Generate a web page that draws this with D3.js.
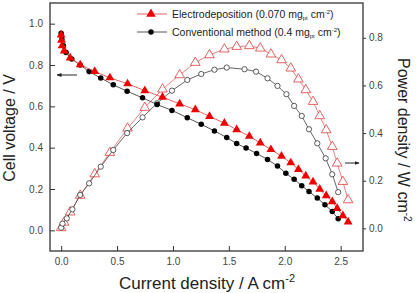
<!DOCTYPE html>
<html>
<head>
<meta charset="utf-8">
<script src="https://cdn.jsdelivr.net/npm/d3@7"></script>
<style>
body { margin: 0; background: #fff; }
text { font-family: "Liberation Sans", Arial, sans-serif; }
</style>
</head>
<body>
<svg id="chart" width="416" height="293"></svg>
<script>
// Electrodeposition (0.070 mg_pt cm-2): cell voltage
var edI = [0, 0.003, 0.008, 0.027, 0.08, 0.17, 0.30, 0.436, 0.594, 0.748, 0.906, 1.06, 1.20, 1.327, 1.46, 1.57, 1.683, 1.781, 1.876, 1.971, 2.054, 2.122, 2.188, 2.253, 2.313, 2.371, 2.425, 2.469, 2.52, 2.567];
var edV = [0.945, 0.92, 0.893, 0.868, 0.834, 0.801, 0.769, 0.738, 0.709, 0.676, 0.644, 0.612, 0.584, 0.551, 0.519, 0.487, 0.455, 0.423, 0.391, 0.359, 0.327, 0.295, 0.263, 0.234, 0.199, 0.168, 0.139, 0.106, 0.071, 0.041];
// Electrodeposition: power density
var edPI = [0, 0.027, 0.08, 0.17, 0.30, 0.436, 0.594, 0.748, 0.906, 1.06, 1.20, 1.327, 1.46, 1.57, 1.683, 1.781, 1.876, 1.971, 2.054, 2.122, 2.188, 2.253, 2.313, 2.371, 2.425, 2.469, 2.52, 2.567];
var edP = [0.002, 0.025, 0.068, 0.138, 0.228, 0.318, 0.42, 0.507, 0.584, 0.644, 0.696, 0.728, 0.752, 0.763, 0.766, 0.756, 0.731, 0.707, 0.672, 0.626, 0.581, 0.532, 0.472, 0.413, 0.343, 0.273, 0.196, 0.119];
// Conventional method (0.4 mg_pt cm-2): cell voltage
var cvI = [0, 0.006, 0.02, 0.044, 0.095, 0.17, 0.25, 0.354, 0.466, 0.59, 0.728, 0.858, 0.991, 1.128, 1.253, 1.371, 1.481, 1.57, 1.654, 1.748, 1.846, 1.935, 2.010, 2.084, 2.152, 2.217, 2.291, 2.36, 2.425, 2.478];
var cvV = [0.954, 0.925, 0.893, 0.861, 0.829, 0.80, 0.768, 0.737, 0.704, 0.673, 0.641, 0.609, 0.58, 0.545, 0.513, 0.481, 0.449, 0.42, 0.398, 0.372, 0.343, 0.311, 0.276, 0.247, 0.216, 0.188, 0.156, 0.124, 0.091, 0.056];
// Conventional method: power density
var cvPI = [0, 0.012, 0.05, 0.1, 0.17, 0.25, 0.354, 0.466, 0.59, 0.728, 0.858, 0.991, 1.128, 1.253, 1.371, 1.481, 1.64, 1.743, 1.846, 1.935, 2.015, 2.084, 2.152, 2.217, 2.291, 2.366, 2.425, 2.478];
var cvP = [0.003, 0.02, 0.042, 0.08, 0.14, 0.189, 0.259, 0.329, 0.40, 0.466, 0.525, 0.578, 0.623, 0.648, 0.666, 0.675, 0.668, 0.658, 0.63, 0.598, 0.563, 0.514, 0.472, 0.416, 0.357, 0.294, 0.227, 0.152];

var xTicks = [0, 0.5, 1.0, 1.5, 2.0, 2.5];
var yLTicks = [0, 0.2, 0.4, 0.6, 0.8, 1.0];
var yRTicks = [0, 0.2, 0.4, 0.6, 0.8];

var svg = d3.select("#chart");
var L = 50, R = 363, T = 3, B = 251;

var x = d3.scaleLinear().domain([-0.1, 2.7]).range([L, R]);
var yL = d3.scaleLinear().domain([-0.1, 1.1]).range([B, T]);
var yR = d3.scaleLinear().domain([-0.095, 0.946]).range([B, T]);

function zip(a, b) { return a.map(function(v, i) { return [v, b[i]]; }); }

// axes
var gx = svg.append("g").attr("transform", "translate(0," + B + ")")
	.call(d3.axisBottom(x).tickValues(xTicks).tickSize(-5).tickPadding(7).tickFormat(d3.format(".1f")));
var gl = svg.append("g").attr("transform", "translate(" + L + ",0)")
	.call(d3.axisLeft(yL).tickValues(yLTicks).tickSize(-5).tickPadding(7).tickFormat(d3.format(".1f")));
var gr = svg.append("g").attr("transform", "translate(" + R + ",0)")
	.call(d3.axisRight(yR).tickValues(yRTicks).tickSize(3).tickPadding(3).tickFormat(d3.format(".1f")));
[gx, gl, gr].forEach(function(g) {
	g.select(".domain").remove();
	g.selectAll("line").attr("stroke", "#333").attr("stroke-width", 1);
	g.selectAll("text").attr("font-size", 10).attr("fill", "#444")
		.attr("font-family", "'Liberation Sans', Arial, sans-serif");
});

svg.append("rect")
	.attr("x", L).attr("y", T).attr("width", R - L).attr("height", B - T)
	.attr("fill", "none").attr("stroke", "#333").attr("stroke-width", 1.3);

// series
var series = [
	{ data: zip(edPI, edP), y: yR, line: "#e57373", sym: d3.symbolTriangle, size: 40, fill: "#fff", stroke: "#e03b3b" },
	{ data: zip(cvPI, cvP), y: yR, line: "#555", sym: d3.symbolCircle, size: 22, fill: "#fff", stroke: "#333" },
	{ data: zip(cvI, cvV), y: yL, line: "#444", sym: d3.symbolCircle, size: 24, fill: "#000", stroke: "none" },
	{ data: zip(edI, edV), y: yL, line: "#e05050", sym: d3.symbolTriangle, size: 34, fill: "#ee0000", stroke: "none" }
];

series.forEach(function(s) {
	var line = d3.line()
		.x(function(d) { return x(d[0]); })
		.y(function(d) { return s.y(d[1]); });
	svg.append("path").datum(s.data)
		.attr("d", line).attr("fill", "none")
		.attr("stroke", s.line).attr("stroke-width", 0.9);
	svg.append("g").selectAll("path")
		.data(s.data)
		.enter()
		.append("path")
		.attr("d", d3.symbol().type(s.sym).size(s.size))
		.attr("transform", function(d) { return "translate(" + x(d[0]) + "," + s.y(d[1]) + ")"; })
		.attr("fill", s.fill)
		.attr("stroke", s.stroke)
		.attr("stroke-width", 0.8);
});

// axis arrows
var defs = svg.append("defs");
defs.append("marker").attr("id", "ah")
	.attr("viewBox", "0 0 10 10").attr("refX", 9).attr("refY", 5)
	.attr("markerWidth", 5).attr("markerHeight", 5).attr("orient", "auto")
	.append("path").attr("d", "M0,1 L10,5 L0,9 Z").attr("fill", "#222");
svg.append("line").attr("x1", 77).attr("y1", 75).attr("x2", 57).attr("y2", 75)
	.attr("stroke", "#222").attr("stroke-width", 1).attr("marker-end", "url(#ah)");
svg.append("line").attr("x1", 345).attr("y1", 163).attr("x2", 359).attr("y2", 163)
	.attr("stroke", "#222").attr("stroke-width", 1).attr("marker-end", "url(#ah)");

// legend
var legend = [
	{ label: "Electrodeposition (0.070 mg", color: "#e05050", sym: d3.symbolTriangle, size: 40, fill: "#ee0000" },
	{ label: "Conventional method (0.4 mg", color: "#444", sym: d3.symbolCircle, size: 24, fill: "#000" }
];
legend.forEach(function(l, i) {
	var yy = 14 + i * 18;
	svg.append("line").attr("x1", 137).attr("x2", 167).attr("y1", yy).attr("y2", yy)
		.attr("stroke", l.color).attr("stroke-width", 0.9);
	svg.append("path").attr("d", d3.symbol().type(l.sym).size(l.size))
		.attr("transform", "translate(151," + yy + ")").attr("fill", l.fill);
	var t = svg.append("text").attr("x", 172).attr("y", yy + 3.8)
		.attr("font-size", 10.5).attr("fill", "#222");
	t.append("tspan").text(l.label);
	t.append("tspan").attr("font-size", 6).attr("dy", 2.5).text("pt");
	t.append("tspan").attr("dy", -2.5).text(" cm");
	t.append("tspan").attr("font-size", 6).attr("dy", -4).text("-2");
	t.append("tspan").attr("dy", 4).text(")");
});

// axis titles
var xt = svg.append("text").attr("x", 207).attr("y", 289).attr("text-anchor", "middle")
	.attr("font-size", 17).attr("fill", "#222");
xt.append("tspan").text("Current density / A cm");
xt.append("tspan").attr("font-size", 11).attr("dy", -7).text("-2");

svg.append("text").attr("transform", "translate(15,128) rotate(-90)")
	.attr("text-anchor", "middle").attr("font-size", 16).attr("fill", "#222")
	.text("Cell voltage / V");

var rt = svg.append("text").attr("transform", "translate(398,58) rotate(90)")
	.attr("font-size", 16).attr("fill", "#222");
rt.append("tspan").text("Power density / W cm");
rt.append("tspan").attr("font-size", 10).attr("dy", -6).text("-2");
</script>
</body>
</html>
